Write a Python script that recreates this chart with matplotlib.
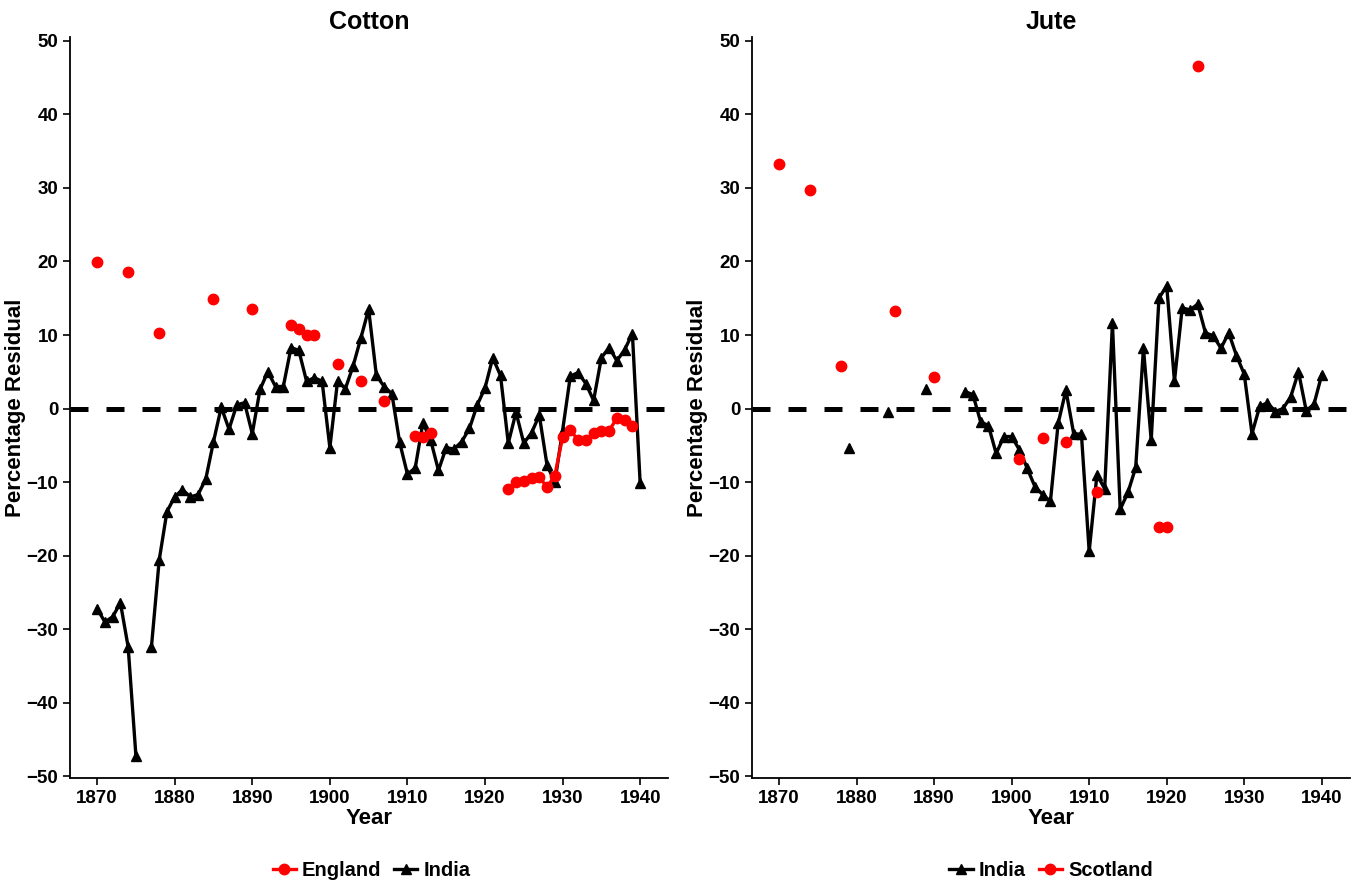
import numpy as np
import matplotlib.pyplot as plt
from matplotlib.lines import Line2D

plt.rcParams['font.family'] = ['Liberation Sans', 'DejaVu Sans']
plt.rcParams['font.weight'] = 'bold'

# cotton, India (NaN = missing year)
cotton_india_years = list(range(1870, 1941))
cotton_india = [-27.2, -29.0, -28.3, -26.4, -32.4, -47.2, np.nan, -32.4, -20.6, -14.0,
                -12.0, -11.0, -12.0, -11.7, -9.6, -4.5, 0.2, -2.8, 0.5, 0.8,
                -3.4, 2.6, 5.0, 3.0, 3.0, 8.3, 7.9, 3.7, 4.2, 3.7,
                -5.3, 3.8, 2.7, 5.8, 9.6, 13.5, 4.5, 3.0, 2.0, -4.6,
                -8.9, -8.1, -1.9, -4.3, -8.4, -5.3, -5.5, -4.5, -2.7, 0.5,
                2.8, 6.9, 4.5, -4.7, -0.5, -4.7, -3.3, -0.9, -7.7, -10.0,
                -3.0, 4.4, 4.9, 3.4, 1.1, 6.9, 8.3, 6.5, 8.0, 10.2,
                -10.1]

# cotton, England
cotton_eng_years = [1870, 1874, 1878, 1885, 1890, 1895, 1896, 1897, 1898, 1901, 1904, 1907,
                    1911, 1912, 1913, 1923, 1924, 1925, 1926, 1927, 1928, 1929, 1930, 1931,
                    1932, 1933, 1934, 1935, 1936, 1937, 1938, 1939]
cotton_eng = [19.9, 18.6, 10.3, 14.9, 13.5, 11.4, 10.8, 10.0, 10.0, 6.0, 3.7, 1.0,
              -3.7, -3.8, -3.3, -10.9, -10.0, -9.8, -9.5, -9.3, -10.7, -9.1, -3.9, -2.9,
              -4.3, -4.3, -3.3, -3.1, -3.0, -1.3, -1.6, -2.4]

# jute, India
jute_india_years = [1879, 1884, 1889] + list(range(1894, 1941))
jute_india = [-5.4, -0.5, 2.6,
              2.3, 1.9, -1.8, -2.3, -6.1, -3.8, -3.8, -5.6, -8.1, -10.6,
              -11.7, -12.6, -2.0, 2.5, -3.4, -3.5, -19.4, -9.0, -10.9, 11.6,
              -13.7, -11.4, -8.0, 8.2, -4.3, 15.0, 16.7, 3.7, 13.7, 13.4,
              14.2, 10.3, 9.9, 8.2, 10.3, 7.2, 4.7, -3.4, 0.3, 0.8,
              -0.4, 0.0, 1.6, 5.0, -0.3, 0.6, 4.6]

# jute, Scotland
jute_scot_years = [1870, 1874, 1878, 1885, 1890, 1901, 1904, 1907, 1911, 1919, 1920, 1924]
jute_scot = [33.2, 29.7, 5.8, 13.2, 4.3, -6.8, -4.0, -4.6, -11.3, -16.1, -16.1, 46.5]

RED = '#ff0000'


def with_gaps(years, vals):
    # put NaN in missing years so lines break like ggplot's geom_line
    full = np.arange(min(years), max(years) + 1)
    out = np.full(len(full), np.nan)
    for y, v in zip(years, vals):
        out[y - full[0]] = v
    return full, out


def draw_series(ax, years, vals, color, marker, ms):
    fx, fy = with_gaps(years, vals)
    ax.plot(fx, fy, color=color, lw=2.4, zorder=3)
    ax.plot(years, vals, ls='none', marker=marker, color=color, ms=ms, zorder=4)


def style(ax, title):
    ax.set_xlim(1866.5, 1943.6)
    ax.set_ylim(-50.2, 50.5)
    ax.set_xticks(range(1870, 1941, 10))
    ax.set_yticks(range(-50, 51, 10))
    ax.axhline(0, color='black', lw=3.6, ls=(0, (3.6, 3.6)), zorder=2)
    for s in ['top', 'right']:
        ax.spines[s].set_visible(False)
    for s in ['left', 'bottom']:
        ax.spines[s].set_linewidth(1.3)
    ax.tick_params(width=1.2, length=5, labelsize=13.5, colors='black')
    for lab in ax.get_xticklabels() + ax.get_yticklabels():
        lab.set_fontweight('bold')
    ax.set_title(title, fontsize=18, fontweight='bold', pad=6)
    ax.set_xlabel('Year', fontsize=16, fontweight='bold', labelpad=1)
    ax.set_ylabel('Percentage Residual', fontsize=16, fontweight='bold', labelpad=0)


fig = plt.figure(figsize=(13.51, 8.82), dpi=100)
ax1 = fig.add_axes([0.0518, 0.118, 0.4427, 0.840])
ax2 = fig.add_axes([0.5566, 0.118, 0.4424, 0.840])

draw_series(ax1, cotton_india_years, cotton_india, 'black', '^', 7.5)
draw_series(ax1, cotton_eng_years, cotton_eng, RED, 'o', 7.5)
style(ax1, 'Cotton')

draw_series(ax2, jute_india_years, jute_india, 'black', '^', 7.5)
draw_series(ax2, jute_scot_years, jute_scot, RED, 'o', 7.5)
style(ax2, 'Jute')

h_eng = Line2D([], [], color=RED, lw=2.4, marker='o', ms=7.5)
h_ind = Line2D([], [], color='black', lw=2.4, marker='^', ms=7.5)
h_sco = Line2D([], [], color=RED, lw=2.4, marker='o', ms=7.5)

leg_kw = dict(loc='center', ncol=2, frameon=False, handlelength=1.15, handletextpad=0.3,
              columnspacing=0.65, prop={'weight': 'bold', 'size': 14.5})
fig.legend([h_eng, h_ind], ['England', 'India'], bbox_to_anchor=(0.275, 0.013), **leg_kw)
fig.legend([h_ind, h_sco], ['India', 'Scotland'], bbox_to_anchor=(0.778, 0.013), **leg_kw)

fig.savefig('out.png', dpi=100)
